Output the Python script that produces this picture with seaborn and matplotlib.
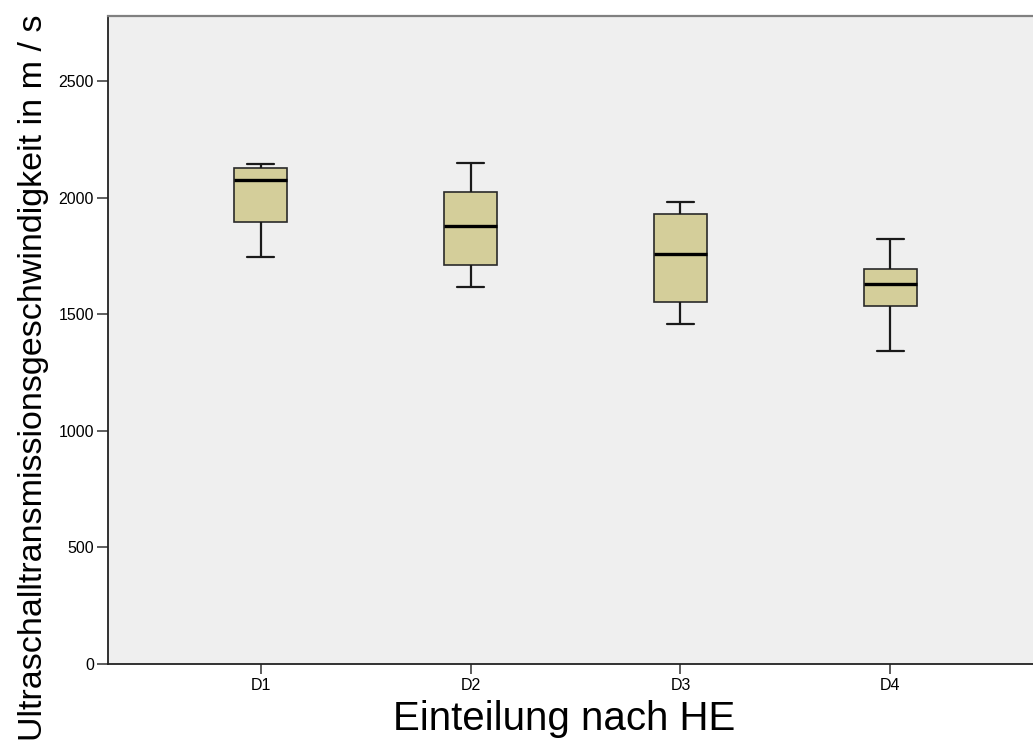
import numpy as np
import pandas as pd
import seaborn as sns
import matplotlib.pyplot as plt

# five-number summaries (m/s)
groups = ["D1", "D2", "D3", "D4"]
lo = [1747, 1617, 1458, 1344]
q1 = [1898, 1710, 1554, 1534]
med = [2078, 1880, 1761, 1632]
q3 = [2127, 2025, 1930, 1694]
hi = [2147, 2150, 1980, 1824]

rows = []
for i, g in enumerate(groups):
    for v in (lo[i], q1[i], med[i], q3[i], hi[i]):
        rows.append({"group": g, "speed": v})
df = pd.DataFrame(rows)

sns.set_style("ticks")
plt.rcParams["font.family"] = ["Liberation Sans", "DejaVu Sans"]
plt.rcParams["text.color"] = "black"
plt.rcParams["axes.labelcolor"] = "black"
plt.rcParams["xtick.color"] = "black"
plt.rcParams["ytick.color"] = "black"

fig = plt.figure(figsize=(10.33, 7.45), dpi=100)
ax = fig.add_axes([108 / 1033, 81 / 745, 935 / 1033, 648 / 745])
ax.set_facecolor("#EFEFEF")

sns.boxplot(
    data=df, x="group", y="speed", ax=ax, order=groups,
    color="#D4CE9A", saturation=1, width=0.25, whis=(0, 100),
    linecolor="#2a2a2a", linewidth=1.2,
    medianprops={"color": "black", "linewidth": 2.4},
    whiskerprops={"linewidth": 1.6, "color": "#1a1a1a"},
    capprops={"linewidth": 1.6, "color": "#1a1a1a"},
)

ax.set_xlim(-0.727, 3.727)
ax.set_ylim(0, 2780)
ax.set_yticks([0, 500, 1000, 1500, 2000, 2500])

for side in ("left", "bottom"):
    ax.spines[side].set_color("#222222")
    ax.spines[side].set_linewidth(1.3)
ax.spines["top"].set_visible(True)
ax.spines["top"].set_color("#808080")
ax.spines["top"].set_linewidth(1.6)
ax.spines["right"].set_visible(False)

ax.tick_params(axis="y", length=8, width=1.1, color="#333333", labelsize=11.5, pad=2)
ax.tick_params(axis="x", length=7, width=1.1, color="#333333", labelsize=11.5, pad=3)

ax.set_xlabel("Einteilung nach HE", fontsize=29)
ax.set_ylabel("Ultraschalltransmissionsgeschwindigkeit in m / s", fontsize=24.5)
ax.xaxis.set_label_coords(0.4877, -0.056)
ax.yaxis.set_label_coords(-0.063, 0.4414)

fig.savefig("out.png", dpi=100)
